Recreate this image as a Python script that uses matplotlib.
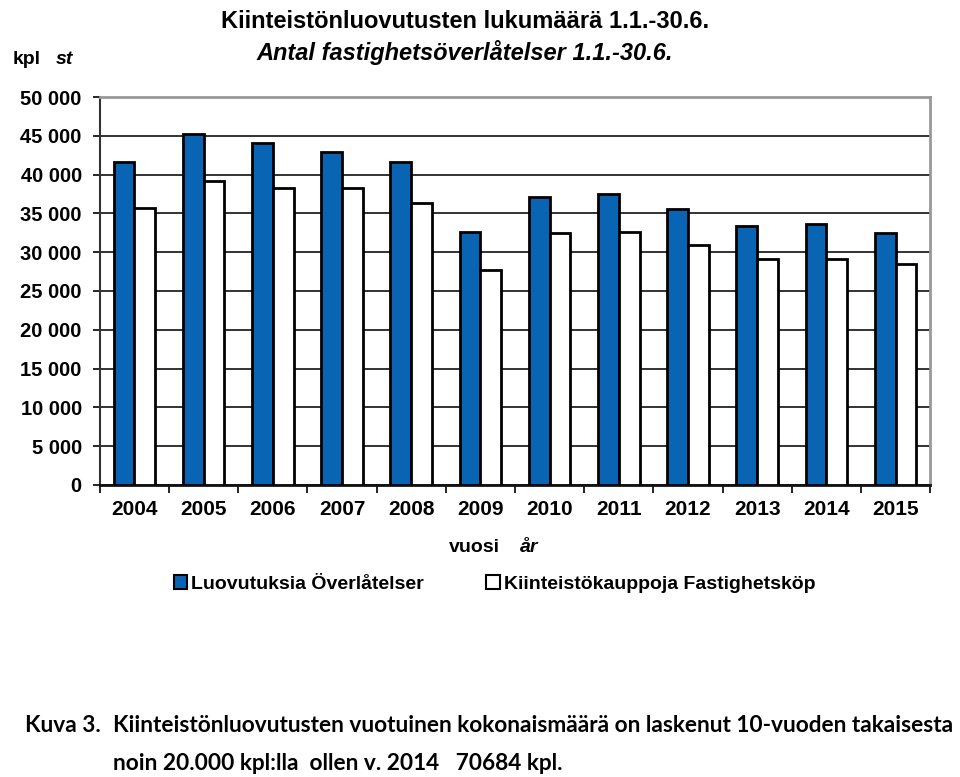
import numpy as np
import matplotlib.pyplot as plt
from matplotlib.patches import Patch

vuodet = ['2004', '2005', '2006', '2007', '2008', '2009', '2010', '2011', '2012', '2013', '2014', '2015']
luovutuksia = [41600, 45200, 44100, 42900, 41600, 32600, 37100, 37500, 35600, 33400, 33600, 32500]
kauppoja = [35700, 39200, 38300, 38300, 36300, 27700, 32500, 32600, 30900, 29100, 29100, 28500]
y_ticks = [0, 5000, 10000, 15000, 20000, 25000, 30000, 35000, 40000, 45000, 50000]

fonts = ['Liberation Sans Narrow', 'Liberation Sans', 'DejaVu Sans']
plt.rcParams['font.family'] = ['Liberation Sans', 'DejaVu Sans']

fig = plt.figure(figsize=(9.6, 7.77), dpi=100)
ax = fig.add_axes([0.104, 0.376, 0.865, 0.499])

x = np.arange(len(vuodet))
w = 0.3
ax.bar(x - w / 2, luovutuksia, w, color='#0a64b4', edgecolor='black', linewidth=2, zorder=3)
ax.bar(x + w / 2, kauppoja, w, color='white', edgecolor='black', linewidth=2, zorder=3)

ax.set_xlim(-0.5, len(vuodet) - 0.5)
ax.set_ylim(0, 50000)
ax.set_yticks(y_ticks)
ax.set_yticklabels([f'{v:,}'.replace(',', ' ') for v in y_ticks], fontsize=14.5, fontweight='bold')
ax.set_xticks(x)
ax.set_xticklabels(vuodet, fontsize=15, fontweight='bold')
ax.set_xticks(np.arange(-0.5, len(vuodet), 1), minor=True)
ax.tick_params(axis='x', which='major', length=0, pad=11)
ax.tick_params(axis='x', which='minor', length=6, width=1.2, direction='out')
ax.tick_params(axis='y', length=5, width=1.2, pad=8)
ax.grid(axis='y', color='#222222', linewidth=1.3, zorder=0)

for s in ['top', 'right']:
    ax.spines[s].set_color('#999999')
    ax.spines[s].set_linewidth(2)
ax.spines['left'].set_color('#333333')
ax.spines['bottom'].set_color('#111111')
ax.spines['left'].set_linewidth(1.5)
ax.spines['bottom'].set_linewidth(2)

fig.text(0.484, 0.972, 'Kiinteistönluovutusten lukumäärä 1.1.-30.6.', ha='center', va='center',
         fontsize=17, fontweight='bold', family=fonts)
fig.text(0.484, 0.933, 'Antal fastighetsöverlåtelser 1.1.-30.6.', ha='center', va='center',
         fontsize=17, fontweight='bold', style='italic', family=fonts)
fig.text(0.013, 0.923, 'kpl', ha='left', va='center', fontsize=14, fontweight='bold', family=fonts)
fig.text(0.058, 0.923, 'st', ha='left', va='center', fontsize=14, fontweight='bold', style='italic', family=fonts)

fig.text(0.468, 0.295, 'vuosi', ha='left', va='center', fontsize=14, fontweight='bold')
fig.text(0.542, 0.295, 'år', ha='left', va='center', fontsize=14, fontweight='bold', style='italic')

handles = [Patch(facecolor='#0a64b4', edgecolor='black', linewidth=1.5, label='Luovutuksia Överlåtelser'),
           Patch(facecolor='white', edgecolor='black', linewidth=1.5, label='Kiinteistökauppoja Fastighetsköp')]
fig.legend(handles=handles, loc='center', bbox_to_anchor=(0.515, 0.248), ncol=2, frameon=False,
           prop={'size': 14, 'weight': 'bold'}, handlelength=0.7, handleheight=0.7,
           handletextpad=0.2, columnspacing=3.2)

cap = ['Lato', 'DejaVu Sans']
fig.text(0.026, 0.066, 'Kuva 3.', ha='left', va='center', fontsize=16.3, fontweight='bold', family=cap)
fig.text(0.118, 0.066, 'Kiinteistönluovutusten vuotuinen kokonaismäärä on laskenut 10-vuoden takaisesta',
         ha='left', va='center', fontsize=16.3, fontweight='bold', family=cap)
fig.text(0.118, 0.017, 'noin 20.000 kpl:lla  ollen v. 2014   70684 kpl.',
         ha='left', va='center', fontsize=16.3, fontweight='bold', family=cap)

fig.savefig('out.png', dpi=100)
